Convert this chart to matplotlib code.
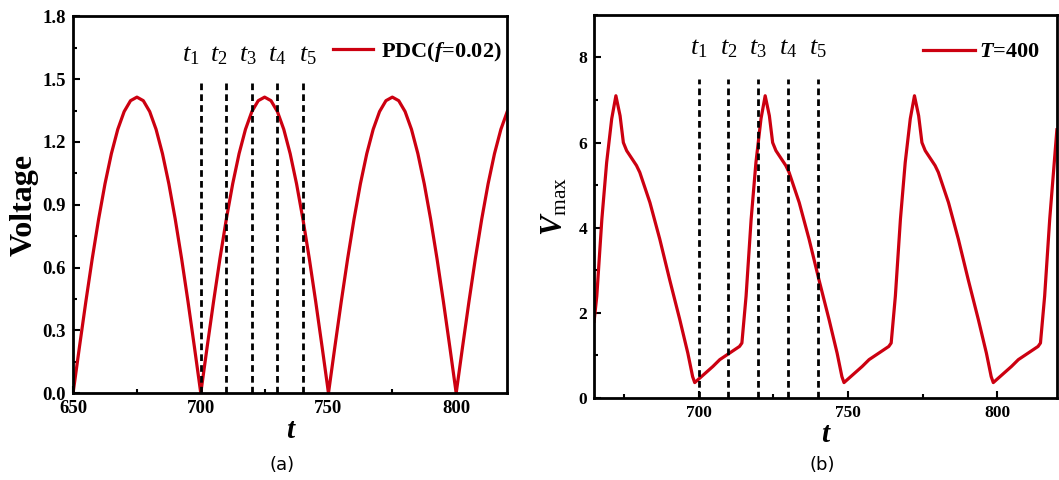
import numpy as np
import matplotlib
matplotlib.use('Agg')
import matplotlib.pyplot as plt
from matplotlib.ticker import MultipleLocator

plt.rcParams['font.family'] = ['Liberation Serif', 'DejaVu Serif']
plt.rcParams['mathtext.fontset'] = 'custom'
plt.rcParams['mathtext.rm'] = 'Liberation Serif'
plt.rcParams['mathtext.it'] = 'Liberation Serif:italic'
plt.rcParams['mathtext.bf'] = 'Liberation Serif:bold'
plt.rcParams['mathtext.bfit'] = 'Liberation Serif:italic:bold'

RED = '#cc0010'

# (a) PDC voltage, sampled every 2.5 time units
t_a = np.arange(650, 822.5, 2.5)
voltage = [0.000, 0.221, 0.437, 0.642, 0.831, 1.000, 1.144, 1.260, 1.345, 1.397, 1.414,
           1.397, 1.345, 1.260, 1.144, 1.000, 0.831, 0.642, 0.437, 0.221, 0.000,
           0.221, 0.437, 0.642, 0.831, 1.000, 1.144, 1.260, 1.345, 1.397, 1.414,
           1.397, 1.345, 1.260, 1.144, 1.000, 0.831, 0.642, 0.437, 0.221, 0.000,
           0.221, 0.437, 0.642, 0.831, 1.000, 1.144, 1.260, 1.345, 1.397, 1.414,
           1.397, 1.345, 1.260, 1.144, 1.000, 0.831, 0.642, 0.437, 0.221, 0.000,
           0.221, 0.437, 0.642, 0.831, 1.000, 1.144, 1.260, 1.345]

# (b) V_max, T=400
t_b = [665.0, 665.9, 667.6, 669.2, 670.9, 672.3, 673.7, 674.8, 675.9, 679.2, 680.3,
       683.7, 687.0, 690.3, 693.7, 696.4, 698.0, 698.7, 700.3, 704.8, 707.1, 710.3,
       713.7, 714.5,
       715.9, 717.6, 719.2, 720.9, 722.3, 723.7, 724.8, 725.9, 729.2, 730.3,
       733.7, 737.0, 740.3, 743.7, 746.4, 748.0, 748.7, 750.3, 754.8, 757.1, 760.3,
       763.7, 764.5,
       765.9, 767.6, 769.2, 770.9, 772.3, 773.7, 774.8, 775.9, 779.2, 780.3,
       783.7, 787.0, 790.3, 793.7, 796.4, 798.0, 798.7, 800.3, 804.8, 807.1, 810.3,
       813.7, 814.5,
       815.9, 817.6, 819.2, 820.0]
vmax = [1.80, 2.39, 4.20, 5.53, 6.56, 7.10, 6.63, 6.00, 5.81, 5.46, 5.30,
        4.59, 3.73, 2.78, 1.84, 1.05, 0.50, 0.36, 0.46, 0.74, 0.90, 1.05,
        1.21, 1.29,
        2.39, 4.20, 5.53, 6.56, 7.10, 6.63, 6.00, 5.81, 5.46, 5.30,
        4.59, 3.73, 2.78, 1.84, 1.05, 0.50, 0.36, 0.46, 0.74, 0.90, 1.05,
        1.21, 1.29,
        2.39, 4.20, 5.53, 6.56, 7.10, 6.63, 6.00, 5.81, 5.46, 5.30,
        4.59, 3.73, 2.78, 1.84, 1.05, 0.50, 0.36, 0.46, 0.74, 0.90, 1.05,
        1.21, 1.29,
        2.39, 4.20, 5.60, 6.30]

t_marks = [700, 710, 720, 730, 740]
t_names = ['$t_1$', '$t_2$', '$t_3$', '$t_4$', '$t_5$']
label_x_a = [695.9, 706.9, 718.6, 730.0, 741.8]

fig = plt.figure(figsize=(10.59, 4.8), dpi=100)
ax1 = fig.add_axes([0.069, 0.181, 0.410, 0.785])
ax2 = fig.add_axes([0.561, 0.171, 0.437, 0.798])

dash = (0, (2.4, 1.5))

def style(ax, size):
    for s in ax.spines.values():
        s.set_linewidth(2)
    ax.tick_params(which='both', direction='in', top=False, right=False, width=1.5)
    ax.tick_params(which='major', length=5, labelsize=size, pad=5)
    ax.tick_params(which='minor', length=3)
    for lab in ax.get_xticklabels() + ax.get_yticklabels():
        lab.set_fontweight('bold')

# panel (a)
ax1.plot(t_a, voltage, color=RED, lw=2.3, label=r'PDC($\mathbfit{f}$=0.02)')
for x in t_marks:
    ax1.plot([x, x], [0, 1.5], color='black', lw=2, linestyle=dash)
for x, name in zip(label_x_a, t_names):
    ax1.text(x, 1.61, name, ha='center', va='center', fontsize=19)
ax1.set_xlim(650, 820)
ax1.set_ylim(0, 1.8)
ax1.xaxis.set_major_locator(MultipleLocator(50))
ax1.xaxis.set_minor_locator(MultipleLocator(25))
ax1.yaxis.set_major_locator(MultipleLocator(0.3))
ax1.yaxis.set_minor_locator(MultipleLocator(0.15))
ax1.yaxis.set_major_formatter(plt.FormatStrFormatter('%.1f'))
style(ax1, 13.5)
ax1.set_xlabel('t', fontsize=21, fontweight='bold', style='italic', labelpad=0)
ax1.set_ylabel('Voltage', fontsize=23, fontweight='bold', labelpad=3)
ax1.legend(loc='center left', bbox_to_anchor=(0.599, 0.905), frameon=False,
           borderpad=0, borderaxespad=0, handlelength=1.8, handletextpad=0.35,
           prop={'size': 16, 'weight': 'bold'})

# panel (b)
ax2.plot(t_b, vmax, color=RED, lw=2.3, label=r'$\mathbfit{T}$=400')
for x in t_marks:
    ax2.plot([x, x], [0, 7.5], color='black', lw=2, linestyle=dash)
for x, name in zip(t_marks, t_names):
    ax2.text(x, 8.2, name, ha='center', va='center', fontsize=19)
ax2.set_xlim(665, 820)
ax2.set_ylim(0, 9)
ax2.xaxis.set_major_locator(MultipleLocator(50))
ax2.xaxis.set_minor_locator(MultipleLocator(25))
ax2.yaxis.set_major_locator(MultipleLocator(2))
ax2.yaxis.set_minor_locator(MultipleLocator(1))
style(ax2, 12.5)
ax2.set_xlabel('t', fontsize=21, fontweight='bold', style='italic', labelpad=0)
ax2.set_ylabel(r'$\mathbfit{V}_{\rm max}$', fontsize=22, labelpad=6)
ax2.legend(loc='center left', bbox_to_anchor=(0.711, 0.903), frameon=False,
           borderpad=0, borderaxespad=0, handlelength=2.35, handletextpad=0.15,
           prop={'size': 16, 'weight': 'bold'})

fig.text(282 / 1059, 1 - 465 / 480, '(a)', ha='center', va='center',
         fontsize=13, family='DejaVu Sans')
fig.text(822 / 1059, 1 - 465 / 480, '(b)', ha='center', va='center',
         fontsize=13, family='DejaVu Sans')

fig.savefig('out.png', dpi=100)
